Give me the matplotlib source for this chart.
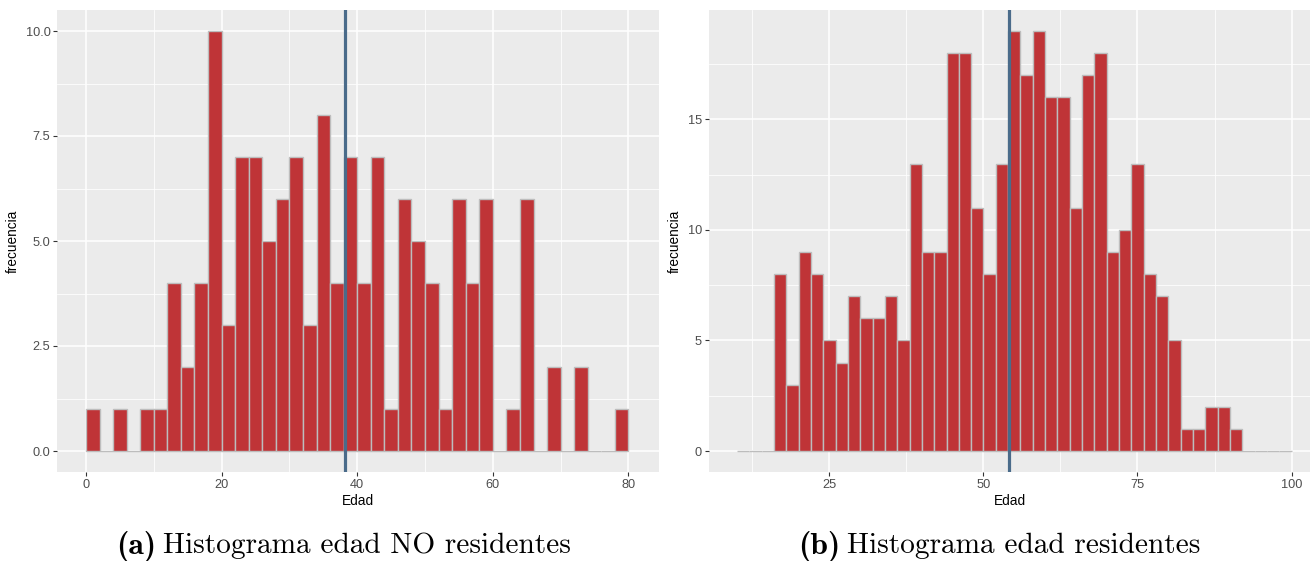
import matplotlib.pyplot as plt
import numpy as np

# histogramas de edad (ancho de clase 2 años)
bordes_no_res = np.arange(0, 82, 2)
conteo_no_res = [1, 0, 1, 0, 1, 1, 4, 2, 4, 10,
                 3, 7, 7, 5, 6, 7, 3, 8, 4, 7,
                 4, 7, 1, 6, 5, 4, 1, 6, 4, 6,
                 0, 1, 6, 0, 2, 0, 2, 0, 0, 1]
media_no_res = 38.2

bordes_res = np.arange(10, 102, 2)
conteo_res = [0, 0, 0, 8, 3, 9, 8, 5, 4, 7,
              6, 6, 7, 5, 13, 9, 9, 18, 18, 11,
              8, 13, 19, 17, 19, 16, 16, 11, 17, 18,
              9, 10, 13, 8, 7, 5, 1, 1, 2, 2,
              1, 0, 0, 0, 0]
media_res = 54.1

ticks_x_no_res = [0, 20, 40, 60, 80]
ticks_y_no_res = [0, 2.5, 5, 7.5, 10]
etiq_y_no_res = ['0.0', '2.5', '5.0', '7.5', '10.0']
ticks_x_res = [25, 50, 75, 100]
ticks_y_res = [0, 5, 10, 15]

relleno = '#BF3437'
borde = '#BDBDBD'
color_media = '#4A6B8A'

W, H = 1310, 561
fig = plt.figure(figsize=(W / 100, H / 100), dpi=100)


def panel(x0, x1, y0, y1):
    return fig.add_axes([x0 / W, 1 - y1 / H, (x1 - x0) / W, (y1 - y0) / H])


def estilo(ax, xt, yt, xmin, ymin):
    ax.set_facecolor('#EBEBEB')
    for s in ax.spines.values():
        s.set_visible(False)
    ax.set_xticks(xt)
    ax.set_yticks(yt)
    ax.set_xticks(xmin, minor=True)
    ax.set_yticks(ymin, minor=True)
    ax.grid(True, which='major', color='white', lw=1.1)
    ax.grid(True, which='minor', color='white', lw=0.55)
    ax.set_axisbelow(True)
    ax.tick_params(which='major', length=3, width=0.8, color='#333333',
                   labelsize=9.2, labelcolor='#4D4D4D', pad=2)
    ax.tick_params(which='minor', length=0)
    for t in ax.get_xticklabels() + ax.get_yticklabels():
        t.set_family('Liberation Sans')
    ax.set_xlabel('Edad', fontsize=9.8, family='Liberation Sans', labelpad=2)
    ax.set_ylabel('frecuencia', fontsize=9.8, family='Liberation Sans', labelpad=4)


# (a) no residentes
ax1 = panel(57.5, 659, 10, 472)
ax1.bar(bordes_no_res[:-1], conteo_no_res, width=2, align='edge',
        color=relleno, edgecolor=borde, linewidth=1.0, zorder=2)
ax1.axvline(media_no_res, color=color_media, lw=2.3, zorder=3)
ax1.set_xlim(-4.2, 84.5)
ax1.set_ylim(-0.5, 10.5)
estilo(ax1, ticks_x_no_res, ticks_y_no_res,
       [10, 30, 50, 70], [1.25, 3.75, 6.25, 8.75])
ax1.set_yticklabels(etiq_y_no_res, family='Liberation Sans')

# (b) residentes
ax2 = panel(709, 1310, 10, 472)
ax2.bar(bordes_res[:-1], conteo_res, width=2, align='edge',
        color=relleno, edgecolor=borde, linewidth=1.0, zorder=2)
ax2.axvline(media_res, color=color_media, lw=2.3, zorder=3)
ax2.set_xlim(5.45, 103.0)
ax2.set_ylim(-0.95, 19.95)
estilo(ax2, ticks_x_res, ticks_y_res,
       [12.5, 37.5, 62.5, 87.5], [2.5, 7.5, 12.5, 17.5])

# leyendas de las subfiguras: etiqueta en negrita + texto
for xj, letra, texto in [(156, '(a)', 'Histograma edad NO residentes'),
                         (840, '(b)', 'Histograma edad residentes')]:
    fig.text(xj / W, 1 - 546 / H, letra, family='cmb10', fontsize=22.8,
             ha='right', va='center')
    fig.text((xj + 7) / W, 1 - 546 / H, texto, family='cmr10', fontsize=21.1,
             ha='left', va='center')

fig.savefig('out.png', dpi=100)
